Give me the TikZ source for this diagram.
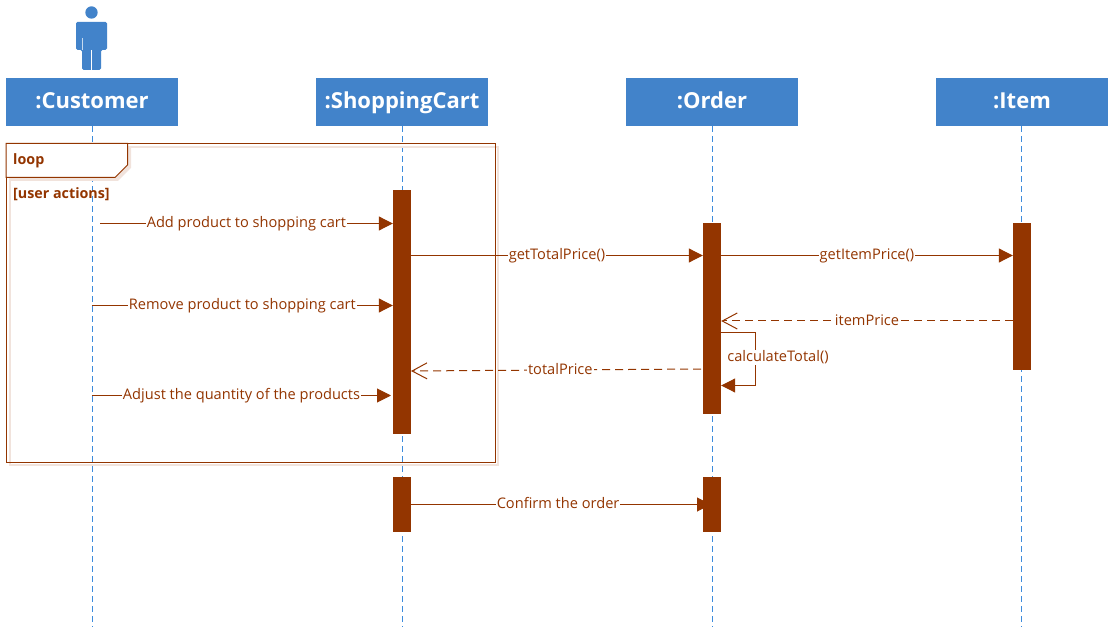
\documentclass[tikz,border=0pt]{standalone}
\usepackage{fontspec}
\setmainfont{Open Sans}
\usepackage{xcolor}
\usetikzlibrary{arrows.meta}
\definecolor{headblue}{HTML}{4283CA}
\definecolor{lineblue}{HTML}{3C8BDC}
\definecolor{rust}{HTML}{933500}
\definecolor{paleshadow}{HTML}{F1E3DC}
\tikzset{
  head/.style={fill=headblue,text=white,minimum width=172pt,minimum height=48pt,inner sep=0pt,text height=16pt,text depth=2pt,font=\fontsize{22}{26}\selectfont\bfseries},
  lifeline/.style={draw=lineblue,line width=1pt,dash pattern=on 6pt off 4pt},
  bar/.style={fill=rust,minimum width=18pt,inner sep=0pt},
  msg/.style={draw=rust,line width=1pt,-{Triangle[length=14pt,width=14pt]}},
  reply/.style={draw=rust,line width=1pt,dash pattern=on 8pt off 5pt,-{Straight Barb[length=15pt,width=16pt,line width=1pt]}},
  msglabel/.style={fill=white,text=rust,inner xsep=1pt,inner ysep=1pt,text height=11pt,text depth=2.8pt,font=\fontsize{14.6}{18}\selectfont},
  framelabel/.style={text=rust,anchor=west,inner sep=0pt,font=\fontsize{14.3}{18}\selectfont\bfseries},
}
\begin{document}
\begin{tikzpicture}[x=1pt,y=-1pt]
\useasboundingbox (0,0) rectangle (1112,631);

% Draw the actor
\fill[headblue] (91.5,12.5) circle (6.2);
\fill[headblue,rounded corners=1.5pt] (76,50) -- (76,22) -- (107,22) -- (107,50) -- (101,50) -- (101,70) -- (82,70) -- (82,50) -- cycle;
\draw[white,line width=0.8pt] (91.5,50) -- (91.5,70);
\draw[white!70!headblue,line width=1pt] (82,38) -- (82,50);

% Lifeline heads
\node[head] (customer) at (92,102) {:Customer};
\node[head] (cart) at (402,102) {:ShoppingCart};
\node[head] (order) at (712,102) {:Order};
\node[head] (item) at (1022,102) {:Item};

% Lifeline ends
\coordinate (customerEnd) at (92.5,627);
\coordinate (cartEnd) at (402.5,627);
\coordinate (orderEnd) at (712.5,627);
\coordinate (itemEnd) at (1021.5,627);

% Lifelines
\draw[lifeline] (customer.south -| customerEnd) -- (customerEnd);
\draw[lifeline] (cart.south -| cartEnd) -- (cartEnd);
\draw[lifeline] (order.south -| orderEnd) -- (orderEnd);
\draw[lifeline] (item.south -| itemEnd) -- (itemEnd);

% Loop frame with its shadow
\draw[paleshadow,line width=1.5pt] (10,147) rectangle (498,465);
\draw[rust,line width=1pt] (6,143.5) rectangle (495,462);
\fill[paleshadow] (10,147) -- (131,147) -- (131,168) -- (118,181) -- (10,181) -- cycle;
\filldraw[fill=white,draw=rust,line width=1pt] (6,143.5) -- (127.5,143.5) -- (127.5,165) -- (115,177.5) -- (6,177.5) -- cycle;
\node[framelabel] (loopname) at (13,161) {loop};
\node[framelabel] (guard) at (13,194) {[user actions]};

% Activation bars
\node[bar,minimum height=244pt] (cartBar) at (402,312) {};
\node[bar,minimum height=191pt] (orderBar) at (712,318.5) {};
\node[bar,minimum height=147pt] (itemBar) at (1022,296.5) {};
\node[bar,minimum height=55pt] (cartBarB) at (402,504.5) {};
\node[bar,minimum height=55pt] (orderBarB) at (712,504.5) {};

% Free ends of the messages
\coordinate (addStart) at (100,223.5);
\coordinate (removeStart) at (92,305.5);
\coordinate (adjustStart) at (92,395.5);
\coordinate (adjustEnd) at (391,395.5);
\coordinate (priceY) at (0,255.5);
\coordinate (itemPriceY) at (0,321);
\coordinate (totalStart) at (701,369);
\coordinate (totalEnd) at (411,371);
\coordinate (selfA) at (755,332.5);
\coordinate (selfB) at (755,385.5);
\coordinate (confirmY) at (0,504.5);
\coordinate (confirmEnd) at (711,504.5);

% Messages
\draw[msg] (addStart) -- node[msglabel] (addLabel) {Add product to shopping cart} (addStart -| cartBar.west);
\draw[msg] (removeStart) -- node[msglabel] (removeLabel) {Remove product to shopping cart} (removeStart -| cartBar.west);
\draw[msg] (adjustStart) -- node[msglabel] (adjustLabel) {Adjust the quantity of the products} (adjustEnd);
\draw[msg] (priceY -| cartBar.east) -- node[msglabel] (totalCall) {getTotalPrice()} (priceY -| orderBar.west);
\draw[msg] (priceY -| orderBar.east) -- node[msglabel] (itemCall) {getItemPrice()} (priceY -| itemBar.west);
\draw[reply] (itemPriceY -| itemBar.west) -- node[msglabel] (itemReply) {itemPrice} (itemPriceY -| orderBar.east);
\draw[reply] (totalStart) -- node[msglabel,pos=0.485] (totalReply) {totalPrice} (totalEnd);
\draw[msg] (selfA -| orderBar.east) -- (selfA) -- node[msglabel,pos=0.47,xshift=23pt] (selfLabel) {calculateTotal()} (selfB) -- (selfB -| orderBar.east);
\draw[msg] (confirmY -| cartBarB.east) -- node[msglabel,pos=0.49] (confirmLabel) {Confirm the order} (confirmEnd);

\end{tikzpicture}
\end{document}
